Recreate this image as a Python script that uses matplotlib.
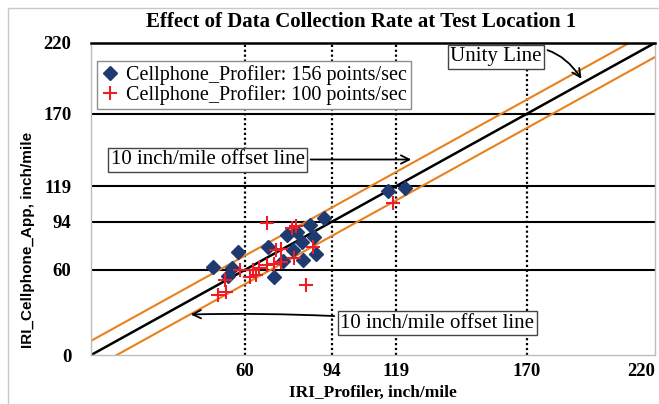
import matplotlib
matplotlib.use("Agg")
import matplotlib.pyplot as plt
from matplotlib.patches import Rectangle

plt.rcParams['font.family'] = ['Liberation Serif', 'DejaVu Serif']

########################   DATA   ##############################
# Cellphone_Profiler: 156 points/sec  (blue diamonds)
x156 = [47.7, 57.5, 54.9, 53.6, 71.5, 69.2, 76.6, 80.5, 85.4, 91.0,
        82.5, 87.0, 78.8, 87.7, 82.8, 75.0, 116.0, 122.5]
y156 = [62.3, 72.4, 61.1, 55.7, 55.2, 76.4, 84.6, 86.4, 91.7, 96.4,
        79.9, 83.0, 74.0, 71.0, 66.8, 66.5, 115.9, 117.5]

# Cellphone_Profiler: 100 points/sec  (red pluses)
x100 = [68.5, 78.3, 80.0, 72.0, 74.0, 86.5, 79.3, 68.5, 71.5, 74.0,
        65.5, 62.0, 64.5, 58.3, 63.3, 52.3, 49.7, 52.5, 83.7, 117.9]
y100 = [92.9, 89.3, 90.8, 74.0, 75.0, 76.0, 68.2, 63.5, 64.5, 65.8,
        61.5, 55.2, 56.5, 60.0, 60.0, 52.9, 42.3, 44.3, 49.6, 107.0]

xticks = [60, 94, 119, 170, 220]
yticks = [0, 60, 94, 119, 170, 220]
grid_vals = [60, 94, 119, 170]
offset = 10
lims = [0, 220]

fig = plt.figure(figsize=(6.59, 4.04), dpi=100)
ax = fig.add_axes([0.138, 0.121, 0.856, 0.773])

# outer frame of the picture
fig.patches.append(Rectangle((0.012, -0.1), 1.1, 1.08, transform=fig.transFigure,
                             fill=False, edgecolor='#c8c8c8', lw=1.0))

for v in grid_vals:
    ax.axhline(v, color='black', lw=1.5, zorder=1)
    ax.axvline(v, color='black', lw=1.6, ls=(0, (1, 1.2)), zorder=1)

# unity and offset lines
ax.plot(lims, lims, color='black', lw=1.8, zorder=2)
ax.plot([0, 220 - offset], [offset, 220], color='#e8801e', lw=1.5, zorder=2)
ax.plot([offset, 220], [0, 220 - offset], color='#e8801e', lw=1.5, zorder=2)

ax.plot(x156, y156, ls='none', marker='D', ms=7.5, color='#1f3a70',
        label='Cellphone_Profiler: 156 points/sec', zorder=3)
ax.plot(x100, y100, ls='none', marker='+', ms=10, mew=1.5, color='#ee1c25',
        label='Cellphone_Profiler: 100 points/sec', zorder=4)

ax.set_xlim(lims)
ax.set_ylim(lims)
ax.set_xticks(xticks)
ax.set_yticks(yticks)
ax.tick_params(length=0, labelsize=13.5)
ax.tick_params(axis='y', pad=14)
ax.tick_params(axis='x', pad=6)
for lab in ax.get_xticklabels() + ax.get_yticklabels():
    lab.set_fontweight('bold')
ax.get_xticklabels()[-1].set_horizontalalignment('right')
ax.get_xticklabels()[-1].set_x(223)

for s in ['left', 'bottom', 'right']:
    ax.spines[s].set_color('#bdbdbd')
    ax.spines[s].set_linewidth(1.0)
ax.spines['top'].set_color('black')
ax.spines['top'].set_linewidth(1.8)

ax.set_xlabel('IRI_Profiler, inch/mile', fontsize=12.5, fontweight='bold')
ax.xaxis.set_label_coords(0.5, -0.094)
ax.set_ylabel('IRI_Cellphone_App, inch/mile', fontsize=11, fontweight='bold',
              family=['Liberation Sans', 'DejaVu Sans'])
ax.yaxis.set_label_coords(-0.099, 0.37)

fig.text(0.548, 0.945, 'Effect of Data Collection Rate at Test Location 1',
         ha='center', va='center', fontsize=15, fontweight='bold')

leg = ax.legend(loc='upper left', bbox_to_anchor=(0.011, 0.942), borderaxespad=0,
                fontsize=14.5, handlelength=0.9, handletextpad=0.35, labelspacing=0.02,
                borderpad=0.2, fancybox=False, framealpha=1, edgecolor='#8c8c8c')
leg.get_frame().set_linewidth(1.0)

box = dict(boxstyle='square,pad=0.12', fc='white', ec='#444444', lw=1.0)

ax.annotate('Unity Line', xy=(191.9, 193.0), xytext=(158.0, 210.2),
            fontsize=15, ha='center', va='center', bbox=box,
            arrowprops=dict(arrowstyle='->', color='black', lw=1.3,
                            connectionstyle='arc3,rad=-0.45'))

ax.annotate('10 inch/mile offset line', xy=(126.0, 137.8), xytext=(45.6, 137.8),
            fontsize=15, ha='center', va='center', bbox=box,
            arrowprops=dict(arrowstyle='->', color='black', lw=1.3))

ax.annotate('10 inch/mile offset line', xy=(37.8, 28.6), xytext=(135.0, 22.4),
            fontsize=15, ha='center', va='center', bbox=box,
            arrowprops=dict(arrowstyle='->', color='black', lw=1.3,
                            connectionstyle='arc3,rad=0.03'))

fig.savefig('out.png', dpi=100)
